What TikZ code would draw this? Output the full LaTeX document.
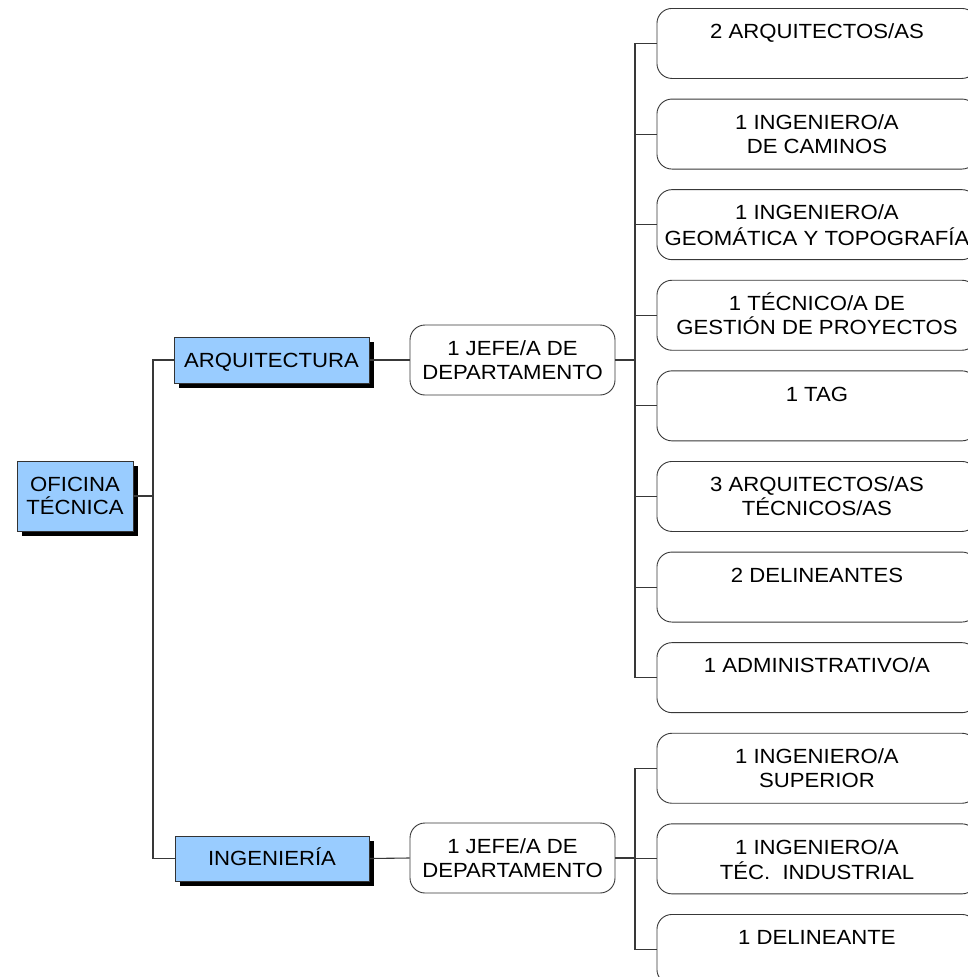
\documentclass[tikz,border=0pt]{standalone}
\usepackage{fontspec}
\setmainfont{Liberation Sans}[FakeStretch=1.08]
\usetikzlibrary{shadows}
\definecolor{boxblue}{HTML}{99CCFF}
\definecolor{linegray}{HTML}{383838}
\newcommand{\fstrut}{\rule{0pt}{19.5pt}}
\begin{document}
\begin{tikzpicture}[x=1pt,y=-1pt,
  every node/.style={font=\fontsize{20.5}{23.5}\selectfont},
  bluebox/.style={draw=black!80, fill=boxblue, line width=0.9pt,
    drop shadow={shadow xshift=4.5pt, shadow yshift=-4.5pt, fill=black, opacity=1},
    align=center, inner sep=0pt},
  roundbox/.style={draw=linegray, fill=white, rounded corners=15pt, line width=0.9pt, align=center, inner sep=0pt},
  rbox/.style={roundbox, minimum width=320pt, minimum height=70pt, anchor=north west},
  rtext/.style={anchor=north, align=center, inner sep=0pt, yshift=-11pt, font=\fontsize{20.5}{24}\selectfont},
  conn/.style={draw=linegray, line width=1.1pt}]
\clip (0,0) rectangle (968,977);
\fill[white] (0,0) rectangle (968,977);

% left column
\node[bluebox, minimum width=116pt, minimum height=70pt] (of) at (75,496) {OFICINA\\TÉCNICA};
\node[bluebox, minimum width=195pt, minimum height=46pt, text height=14.7pt, text depth=0pt] (arq) at (271.5,360) {ARQUITECTURA};
\node[bluebox, minimum width=194pt, minimum height=45pt, text height=14.7pt, text depth=0pt] (ing) at (272,858.5) {INGENIERÍA};

% jefe boxes
\node[roundbox, minimum width=205pt, minimum height=70pt] (ja) at (512.5,360) {1 JEFE/A DE\\DEPARTAMENTO};
\node[roundbox, minimum width=205pt, minimum height=70pt] (je) at (512.5,858) {1 JEFE/A DE\\DEPARTAMENTO};

% right boxes
\node[rbox] (a1) at (656.5,8) {};
\node[rbox] (a2) at (656.5,98.6) {};
\node[rbox] (a3) at (656.5,189.2) {};
\node[rbox] (a4) at (656.5,279.8) {};
\node[rbox] (a5) at (656.5,370.4) {};
\node[rbox] (a6) at (656.5,461) {};
\node[rbox] (a7) at (656.5,551.6) {};
\node[rbox] (a8) at (656.5,642.2) {};
\node[rbox] (e1) at (656.5,732.8) {};
\node[rbox] (e2) at (656.5,823.4) {};
\node[rbox] (e3) at (656.5,914) {};

\node[rtext] (a1t) at (a1.north) {\fstrut 2 ARQUITECTOS/AS};
\node[rtext] (a2t) at (a2.north) {\fstrut 1 INGENIERO/A\\DE CAMINOS};
\node[rtext] (a3t) at (a3.north) {\fstrut 1 INGENIERO/A\\[2pt]GEOMÁTICA Y TOPOGRAFÍA};
\node[rtext] (a4t) at (a4.north) {\fstrut 1 TÉCNICO/A DE\\GESTIÓN DE PROYECTOS};
\node[rtext] (a5t) at (a5.north) {\fstrut 1 TAG};
\node[rtext] (a6t) at (a6.north) {\fstrut 3 ARQUITECTOS/AS\\TÉCNICOS/AS};
\node[rtext] (a7t) at (a7.north) {\fstrut 2 DELINEANTES};
\node[rtext] (a8t) at (a8.north) {\fstrut 1 ADMINISTRATIVO/A};
\node[rtext] (e1t) at (e1.north) {\fstrut 1 INGENIERO/A\\SUPERIOR};
\node[rtext] (e2t) at (e2.north) {\fstrut 1 INGENIERO/A\\[1pt]TÉC.\ \ INDUSTRIAL};
\node[rtext] (e3t) at (e3.north) {\fstrut 1 DELINEANTE};

% connectors
\coordinate (f0) at (153,496);
\coordinate (fa) at (635,360);
\coordinate (fe) at (635,858);
\draw[conn] (of.east) -- (f0);
\draw[conn] (arq.west) -| (f0) |- (ing.west);
\draw[conn] (arq.east) -- (ja.west);
\draw[conn] (ing.east) -- (je.west);
\draw[conn] (ja.east) -- (fa);
\draw[conn] (je.east) -- (fe);
\draw[conn] (a1.west) -| (fa) |- (a8.west);
\foreach \n in {a2,a3,a4,a5,a6,a7} \draw[conn] (\n.west) -- (\n.west -| fa);
\draw[conn] (e1.west) -| (fe) |- (e3.west);
\draw[conn] (e2.west) -- (e2.west -| fe);
\end{tikzpicture}
\end{document}
